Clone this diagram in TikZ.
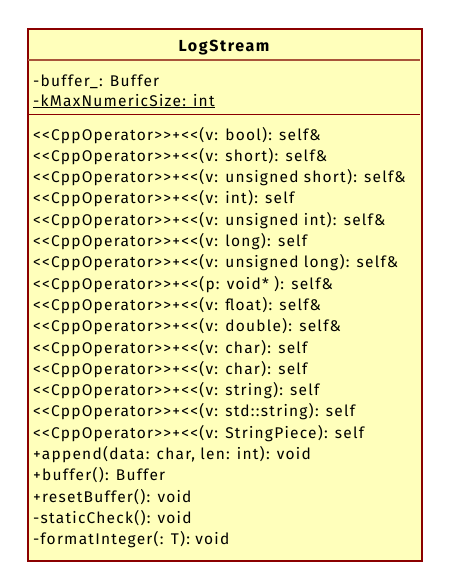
\documentclass[tikz,border=0pt]{standalone}
\usepackage{fontspec}
\setmainfont{Fira Sans}
\newfontfamily\bodyfont[LetterSpace=8]{Fira Sans}
\newfontfamily\titlefont[LetterSpace=10]{Fira Sans Bold}
\definecolor{umlfill}{HTML}{FFFFBB}
\definecolor{umlborder}{HTML}{8B0000}
\definecolor{umlsep}{HTML}{A8553A}
\begin{document}
\begin{tikzpicture}[x=1pt,y=-1pt,
  txt/.style={anchor=base west, inner sep=0pt, font=\bodyfont\fontsize{15.5}{18}\selectfont},
  ttl/.style={anchor=base, inner sep=0pt, font=\titlefont\fontsize{16}{20}\selectfont}]
\useasboundingbox (0,0) rectangle (448,587);
\node[draw=umlborder, fill=umlfill, line width=2pt, minimum width=394pt, minimum height=532pt, anchor=north west, inner sep=0pt] (box) at (27,28) {};
\node[ttl] (title) at (224,51) {LogStream};
\coordinate (s1l) at (28,59.5); \coordinate (s1r) at (420,59.5);
\draw[umlsep, line width=2pt] (s1l) -- (s1r);
\coordinate (s2l) at (28,114.5); \coordinate (s2r) at (420,114.5);
\draw[umlborder, line width=1.2pt] (s2l) -- (s2r);
\node[txt] (a1) at (33,86) {-buffer\_: Buffer};
\node[txt] (a2) at (33,106) {\underline{-kMaxNumericSize: int}};
\foreach \t [count=\i from 0] in {
 {<{}<CppOperator>{}>+<{}<(v: bool): self\&},
 {<{}<CppOperator>{}>+<{}<(v: short): self\&},
 {<{}<CppOperator>{}>+<{}<(v: unsigned short): self\&},
 {<{}<CppOperator>{}>+<{}<(v: int): self},
 {<{}<CppOperator>{}>+<{}<(v: unsigned int): self\&},
 {<{}<CppOperator>{}>+<{}<(v: long): self},
 {<{}<CppOperator>{}>+<{}<(v: unsigned long): self\&},
 {<{}<CppOperator>{}>+<{}<(p: void* ): self\&},
 {<{}<CppOperator>{}>+<{}<(v: float): self\&},
 {<{}<CppOperator>{}>+<{}<(v: double): self\&},
 {<{}<CppOperator>{}>+<{}<(v: char): self},
 {<{}<CppOperator>{}>+<{}<(v: char): self},
 {<{}<CppOperator>{}>+<{}<(v: string): self},
 {<{}<CppOperator>{}>+<{}<(v: std::string): self},
 {<{}<CppOperator>{}>+<{}<(v: StringPiece): self},
 {+append(data: char, len: int): void},
 {+buffer(): Buffer},
 {+resetBuffer(): void},
 {-staticCheck(): void},
 {-formatInteger(: T): void}}
 { \node[txt] (m\i) at (33,{140+21.3*\i}) {\t}; }
\end{tikzpicture}
\end{document}
